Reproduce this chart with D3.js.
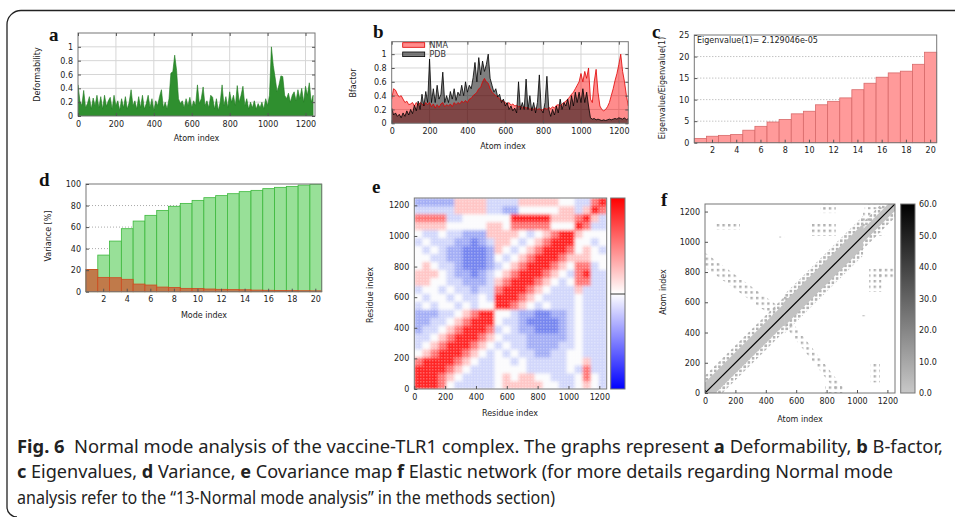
<!DOCTYPE html>
<html>
<head>
<meta charset="utf-8">
<style>
body{margin:0;background:#fff;}
</style>
</head>
<body>
<script src="https://cdn.jsdelivr.net/npm/d3@7"></script>
<script>
const W = 955, H = 517;

// ---- data ----
const atomTicks = [0,200,400,600,800,1000,1200];
const deformTicks = [0,0.2,0.4,0.6,0.8,1];
const deformStep = 10;
const deformability = [0.45,0.22,0.15,0.37,0.12,0.18,0.28,0.1,0.26,0.15,0.3,0.12,0.28,0.1,0.3,0.14,0.22,0.27,0.1,0.3,
  0.15,0.22,0.08,0.25,0.12,0.28,0.1,0.2,0.38,0.15,0.22,0.1,0.28,0.12,0.3,0.1,0.18,0.3,0.12,0.25,
  0.08,0.22,0.15,0.28,0.38,0.12,0.2,0.1,0.25,0.62,0.64,0.88,0.66,0.25,0.18,0.22,0.12,0.25,0.15,0.27,
  0.12,0.22,0.15,0.45,0.18,0.25,0.42,0.15,0.22,0.12,0.3,0.27,0.1,0.25,0.08,0.2,0.45,0.15,0.28,0.12,
  0.35,0.2,0.3,0.15,0.44,0.2,0.3,0.43,0.15,0.25,0.1,0.2,0.12,0.22,0.1,0.18,0.12,0.2,0.1,0.25,
  0.15,0.3,1.0,0.73,0.55,0.35,0.45,0.58,0.57,0.3,0.25,0.33,0.2,0.3,0.35,0.22,0.38,0.25,0.4,0.2,
  0.43,0.3,0.48,0.2,0.3];

const bfTicks = [0,0.2,0.4,0.6,0.8,1];
const bfStep = 10;
const bfactorNMA = [0.35,0.5,0.48,0.42,0.38,0.4,0.35,0.3,0.32,0.27,0.28,0.3,0.25,0.3,0.26,0.3,0.28,0.25,0.3,0.27,
  0.3,0.24,0.28,0.22,0.27,0.23,0.28,0.3,0.24,0.27,0.25,0.28,0.24,0.3,0.27,0.3,0.28,0.32,0.3,0.33,
  0.3,0.35,0.36,0.4,0.42,0.45,0.5,0.52,0.6,0.65,0.6,0.58,0.5,0.45,0.42,0.4,0.38,0.35,0.33,0.32,
  0.3,0.28,0.3,0.26,0.28,0.25,0.26,0.24,0.25,0.22,0.24,0.22,0.23,0.2,0.22,0.2,0.22,0.2,0.21,0.19,
  0.2,0.22,0.2,0.23,0.21,0.24,0.22,0.26,0.27,0.25,0.28,0.3,0.32,0.35,0.38,0.42,0.45,0.5,0.55,0.6,
  0.72,0.6,0.75,0.65,0.8,0.35,0.3,0.6,0.78,0.45,0.25,0.2,0.18,0.2,0.24,0.3,0.4,0.5,0.62,0.72,
  0.85,1.0,0.75,0.6,0.4,0.25];
const bfactorPDB = [0.22,0.12,0.15,0.1,0.13,0.08,0.15,0.1,0.18,0.12,0.2,0.14,0.26,0.18,0.32,0.2,0.42,0.25,0.46,0.3,
  0.93,0.3,0.5,0.3,0.55,0.35,0.42,0.74,0.3,0.4,0.3,0.46,0.35,0.5,0.33,0.45,0.4,0.55,0.4,0.6,
  0.45,0.55,0.5,0.66,0.88,0.6,0.95,0.7,0.9,0.75,0.85,1.0,0.65,0.55,0.45,0.5,0.38,0.42,0.3,0.35,
  0.25,0.3,0.2,0.25,0.18,0.22,0.15,0.6,0.2,0.3,0.2,0.64,0.2,0.4,0.18,0.3,0.15,0.3,0.7,0.2,
  0.15,0.3,0.68,0.2,0.1,0.2,0.12,0.25,0.15,0.35,0.2,0.3,0.25,0.35,0.2,0.4,0.25,0.45,0.3,0.45,
  0.3,0.5,0.3,0.45,0.25,0.08,0.06,0.07,0.05,0.06,0.05,0.04,0.05,0.04,0.05,0.06,0.05,0.06,0.07,0.06,
  0.08,0.07,0.06,0.08,0.05,0.07];

const modeIndex = [1,2,3,4,5,6,7,8,9,10,11,12,13,14,15,16,17,18,19,20];
const modeTicks = [2,4,6,8,10,12,14,16,18,20];
const eigenvalue1 = "2.129046e-05";
const eigenRatio = [1.0,1.5,1.7,1.9,2.9,3.8,4.8,5.4,6.7,7.3,8.8,9.6,10.4,12.3,13.8,15.2,16.2,16.6,18.2,21.0];
const eigTicks = [0,5,10,15,20,25];

const varianceCum = [20.7,34,47,58.5,65.6,70.9,75.5,79.3,82,84.8,87.3,89.2,91,92.9,94.1,95.7,96.9,97.8,99,99.7];
const varianceInd = [20.7,13.3,13,11.5,7.1,6.2,4.3,4,3.1,3,2.5,2.2,2.0,1.8,1.5,1.3,1.2,1.0,0.9,0.8];
const varTicks = [0,20,40,60,80,100];

// covariance map, 52-residue cells, rows bottom->top; B strong anti ... R strong positive
const covCell = 52;
const covLevel = {B:-3, b:-2, c:-1, ".":0, p:1, r:2, R:3};
const covRows = [
  "RRRr.ccccc.ppppp..cc.p.c",
  "RRRrp.cccc.p.pp..ccc.r.c",
  "RRRRrp.ccc....ccccc.crcc",
  "rRRRRrp.cc..c.ccccc..pcc",
  ".prRRRrp.c.c.ccbbcc..ccc",
  "c.prRRRrp.c.ccbbbbcc.ccc",
  "cc.prRRRrp.cccbbbbbc.ccc",
  "bcc.prRRRrc.cbbBBBbc.ccc",
  "bbcc.prRRR.ccbBBBBbc.ccc",
  "bbbcc.prRR..cbbBBbbc.ccc",
  "c.c..c.c..RRrp.c.ccc.ccc",
  ".c..c.cc.cRRRrp.cccc.ccc",
  "c..c.ccbccrRRRrp.cccpccc",
  "pp..ccbbbcprRRRrp.c.rrcc",
  "ppp.cbbBbc.prRRRrp.crRcc",
  ".p.ccbBBBbc.prRRRrp.rrc.",
  "..ccbbBBBb.c.prRRRrppp..",
  ".c.cbbBBBbp.c.prRRRr.p.c",
  "c.cccbbBbcpp.c.prRRR..c.",
  ".cc.ccbbbpppp.c.prRRp...",
  "pppp.....pp.rrrrr...Rrcc",
  "rrrrcc......RRRRRppprRpc",
  "cccccppppccbb.....ppcpRr",
  "bbbbbppppccccppppp..ccrR"
];

// elastic network: bands [x1,y1,x2,y2,half width,kind] and patches [x0,x1,y0,y1]
const contactBands = [
  [0,0,520,520,115,"halo"],
  [520,520,1040,1040,130,"halo"],
  [1040,1040,1250,1250,90,"halo"],
  [0,880,490,520,48,"sparse"],
  [530,480,905,0,42,"sparse"],
  [0,0,520,520,70,"dense"],
  [520,520,1040,1040,80,"dense"],
  [1040,1040,1250,1250,45,"dense"]
];
const contactPatches = [
  [60,230,1080,1130],[690,860,1040,1130],[760,860,1190,1250],[490,520,1015,1035],
  [1040,1090,1040,1200],[1040,1180,1040,1065],[1080,1160,670,820],[1140,1250,760,830],
  [1030,1060,490,515],[1090,1150,70,200],[790,900,0,60],[1050,1250,1215,1250],[510,620,520,640]
];
const elasticTicks = [0,10,20,30,40,50,60];

// ---- drawing ----
const svg = d3.select("body").append("svg").attr("width", W).attr("height", H).style("display","block");
const defs = svg.append("defs");
const FONT = "DejaVu Sans";

function clip(id, x0, y0, x1, y1) {
  defs.append("clipPath").attr("id", id).append("rect")
    .attr("x", x0).attr("y", y0).attr("width", x1 - x0).attr("height", y1 - y0);
  return `url(#${id})`;
}

function styleAxis(g) {
  g.attr("font-family", FONT).attr("font-size", 8);
  g.select(".domain").remove();
  g.selectAll(".tick line").attr("stroke", "#555");
  g.selectAll(".tick text").attr("fill", "#222");
}

function axes(x, y, xt, yt, xf, yf, mirror) {
  const [x0, x1] = x.range(), [yb, yt0] = y.range();
  svg.append("g").attr("transform", `translate(0,${yb})`)
    .call(d3.axisBottom(x).tickValues(xt).tickFormat(xf).tickSize(-3).tickPadding(5)).call(styleAxis);
  svg.append("g").attr("transform", `translate(${x0},0)`)
    .call(d3.axisLeft(y).tickValues(yt).tickFormat(yf).tickSize(-3).tickPadding(5)).call(styleAxis);
  if (mirror) {
    svg.append("g").attr("transform", `translate(0,${yt0})`)
      .call(d3.axisTop(x).tickValues(xt).tickFormat("").tickSize(-3)).call(styleAxis);
    svg.append("g").attr("transform", `translate(${x1},0)`)
      .call(d3.axisRight(y).tickValues(yt).tickFormat("").tickSize(-3)).call(styleAxis);
  }
}

function border(x, y) {
  const [x0, x1] = x.range(), [yb, yt] = y.range();
  svg.append("rect").attr("x", x0).attr("y", yt).attr("width", x1 - x0).attr("height", yb - yt)
    .attr("fill", "none").attr("stroke", "#777").attr("stroke-width", 1);
}

function label(txt, x, y, rot) {
  svg.append("text").attr("x", x).attr("y", y).attr("text-anchor", "middle")
    .attr("font-family", FONT).attr("font-size", 8).attr("fill", "#222")
    .attr("transform", rot ? `rotate(-90,${x},${y})` : null).attr("dy", "0.35em").text(txt);
}

function letter(txt, x, y) {
  svg.append("text").attr("x", x).attr("y", y).attr("font-family", "Liberation Serif")
    .attr("font-weight", "bold").attr("font-size", 19).attr("fill", "#111").text(txt);
}

const fmt1 = d => String(+d.toFixed(1));

// frame of the figure
svg.append("path").attr("d", "M955,10.5 H21 A14,14 0 0 0 7,24.5 V507 A10,10 0 0 0 17,517")
  .attr("fill", "none").attr("stroke", "#222").attr("stroke-width", 1.3);

// ---- a: deformability ----
{
  const x = d3.scaleLinear([0, 1250], [78, 315]);
  const y = d3.scaleLinear([0, 1.2], [116, 33]);
  const g = svg.append("g");
  g.selectAll("line.gx").data(atomTicks.slice(1)).join("line")
    .attr("x1", d => x(d)).attr("x2", d => x(d)).attr("y1", y(0)).attr("y2", y(1.2)).attr("stroke", "#d6d6d6");
  g.selectAll("line.gy").data(deformTicks.slice(1)).join("line")
    .attr("x1", x(0)).attr("x2", x(1250)).attr("y1", d => y(d)).attr("y2", d => y(d)).attr("stroke", "#d6d6d6");
  const area = d3.area().x((d, i) => x(i * deformStep)).y0(y(0)).y1(d => y(d));
  g.append("path").datum(deformability).attr("d", area).attr("fill", "#2f8f2f")
    .attr("stroke", "#1e7a1e").attr("stroke-width", 0.6).attr("clip-path", clip("clipA", 78, 33, 315, 116));
  border(x, y);
  axes(x, y, atomTicks, deformTicks, d3.format("d"), fmt1, true);
  label("Deformability", 37.5, 74.5, true);
  label("Atom index", 196.5, 138, false);
  letter("a", 49, 41);
}

// ---- b: B-factor ----
{
  const x = d3.scaleLinear([0, 1250], [391.7, 628.3]);
  const y = d3.scaleLinear([0, 1.18], [123.3, 41.7]);
  const g = svg.append("g");
  g.selectAll("line.gx").data(atomTicks.slice(1)).join("line")
    .attr("x1", d => x(d)).attr("x2", d => x(d)).attr("y1", y(0)).attr("y2", y(1.18)).attr("stroke", "#d6d6d6");
  g.selectAll("line.gy").data(bfTicks.slice(1)).join("line")
    .attr("x1", x(0)).attr("x2", x(1250)).attr("y1", d => y(d)).attr("y2", d => y(d)).attr("stroke", "#d6d6d6");
  const cp = clip("clipB", 391.7, 41.7, 628.3, 123.3);
  const area = d3.area().x((d, i) => x(i * bfStep)).y0(y(0)).y1(d => y(d));
  const line = d3.line().x((d, i) => x(i * bfStep)).y(d => y(d));
  g.append("path").datum(bfactorNMA).attr("d", area).attr("fill", "rgb(255,0,0)").attr("fill-opacity", 0.45).attr("clip-path", cp);
  g.append("path").datum(bfactorPDB).attr("d", area).attr("fill", "#000").attr("fill-opacity", 0.5).attr("clip-path", cp);
  g.append("path").datum(bfactorNMA).attr("d", line).attr("fill", "none").attr("stroke", "#e00000").attr("stroke-width", 0.8).attr("clip-path", cp);
  g.append("path").datum(bfactorPDB).attr("d", line).attr("fill", "none").attr("stroke", "#000").attr("stroke-width", 0.8).attr("clip-path", cp);
  border(x, y);
  axes(x, y, atomTicks, bfTicks, d3.format("d"), fmt1, true);
  // legend
  const leg = [["NMA", "rgba(255,0,0,0.45)", "#e00000", 42.7], ["PDB", "rgba(0,0,0,0.5)", "#000", 52]];
  leg.forEach(([t, f, s, yy]) => {
    svg.append("rect").attr("x", 402.7).attr("y", yy).attr("width", 22).attr("height", 4.6).attr("fill", f).attr("stroke", s).attr("stroke-width", 0.8);
    svg.append("text").attr("x", 429.5).attr("y", yy + 2.3).attr("dy", "0.35em").attr("font-family", FONT)
      .attr("font-size", 8).attr("fill", "#333").text(t);
  });
  label("Bfactor", 353, 83, true);
  label("Atom index", 503, 146, false);
  letter("b", 373, 38);
}

// ---- c: eigenvalues ----
{
  const x = d3.scaleBand(modeIndex, [694.3, 936.7]).padding(0);
  const y = d3.scaleLinear([0, 25], [142.7, 35]);
  svg.selectAll("line.gc").data(eigTicks.slice(1, -1)).join("line")
    .attr("x1", 694.3).attr("x2", 936.7).attr("y1", d => y(d)).attr("y2", d => y(d))
    .attr("stroke", "#aaa").attr("stroke-dasharray", "1,2");
  svg.append("g").selectAll("rect").data(eigenRatio).join("rect")
    .attr("x", (d, i) => x(modeIndex[i])).attr("width", x.bandwidth())
    .attr("y", d => y(d)).attr("height", d => y(0) - y(d))
    .attr("fill", "#ff9a9a").attr("stroke", "#d86a6a").attr("stroke-width", 0.8);
  border(x, y);
  axes(x, y, modeTicks, eigTicks, d3.format("d"), d3.format("d"), false);
  svg.append("text").attr("x", 697).attr("y", 42.5).attr("font-family", FONT).attr("font-size", 8)
    .attr("fill", "#222").text(`Eigenvalue(1)= ${eigenvalue1}`);
  label("Eigenvalue/Eigenvalue(1)", 662.7, 88, true);
  letter("c", 652, 38);
}

// ---- d: variance ----
{
  const x = d3.scaleBand(modeIndex, [86, 321.7]).padding(0);
  const y = d3.scaleLinear([0, 100], [291.7, 184]);
  svg.selectAll("line.gd").data(varTicks.slice(1, -1)).join("line")
    .attr("x1", 86).attr("x2", 321.7).attr("y1", d => y(d)).attr("y2", d => y(d))
    .attr("stroke", "#aaa").attr("stroke-dasharray", "1,2");
  svg.append("g").selectAll("rect").data(varianceCum).join("rect")
    .attr("x", (d, i) => x(modeIndex[i])).attr("width", x.bandwidth())
    .attr("y", d => y(d)).attr("height", d => y(0) - y(d))
    .attr("fill", "#98e098").attr("stroke", "#3cb83c").attr("stroke-width", 0.8);
  svg.append("g").selectAll("rect").data(varianceInd).join("rect")
    .attr("x", (d, i) => x(modeIndex[i])).attr("width", x.bandwidth())
    .attr("y", d => y(d)).attr("height", d => y(0) - y(d))
    .attr("fill", "#c07a4a").attr("stroke", "#d04a20").attr("stroke-width", 0.8);
  border(x, y);
  axes(x, y, modeTicks, varTicks, d3.format("d"), d3.format("d"), false);
  label("Variance [%]", 48, 236, true);
  label("Mode index", 204, 315, false);
  letter("d", 39, 186);
}

// ---- e: covariance map ----
{
  const n = covRows.length, max = n * covCell;
  const x = d3.scaleLinear([0, max], [414.3, 606.7]);
  const y = d3.scaleLinear([0, max], [389, 198]);
  const color = d3.scaleLinear([-3, -2, -1, 0, 1, 2, 3],
    ["#7584ef", "#a3adf5", "#d2d7fb", "#fbfbfd", "#ffc6c6", "#ff7676", "#ff2323"]);
  const cells = [];
  covRows.forEach((row, i) => row.split("").forEach((ch, j) => cells.push({i, j, v: covLevel[ch]})));
  const blur = defs.append("filter").attr("id", "covBlur").attr("x", 0).attr("y", 0).attr("width", 1).attr("height", 1);
  blur.append("feGaussianBlur").attr("stdDeviation", 1.6).attr("edgeMode", "duplicate");
  const g = svg.append("g").attr("clip-path", clip("clipE", 414.3, 198, 606.7, 389));
  g.append("g").attr("filter", "url(#covBlur)").selectAll("rect").data(cells).join("rect")
    .attr("x", d => x(d.j * covCell)).attr("y", d => y((d.i + 1) * covCell))
    .attr("width", x(covCell) - x(0) + 0.3).attr("height", y(0) - y(covCell) + 0.3)
    .attr("fill", d => color(d.v));
  // fine texture of the map
  const pat = defs.append("pattern").attr("id", "covTex").attr("patternUnits", "userSpaceOnUse")
    .attr("width", 3).attr("height", 3);
  pat.append("rect").attr("width", 1.5).attr("height", 1.5).attr("fill", "#fff").attr("fill-opacity", 0.28);
  g.append("rect").attr("x", 414.3).attr("y", 198).attr("width", 192.4).attr("height", 191).attr("fill", "url(#covTex)");
  svg.append("rect").attr("x", 414.3).attr("y", 198).attr("width", 192.4).attr("height", 191)
    .attr("fill", "none").attr("stroke", "#777");
  axes(x, y, atomTicks, atomTicks, d3.format("d"), d3.format("d"), false);
  // colour bar
  const grad = defs.append("linearGradient").attr("id", "covBar").attr("x1", 0).attr("y1", 0).attr("x2", 0).attr("y2", 1);
  [[0, "#ff0000"], [0.5, "#ffffff"], [1, "#0000ff"]].forEach(([o, c]) =>
    grad.append("stop").attr("offset", o).attr("stop-color", c));
  svg.append("rect").attr("x", 610.7).attr("y", 198).attr("width", 14.3).attr("height", 191)
    .attr("fill", "url(#covBar)").attr("stroke", "#777");
  svg.append("line").attr("x1", 610.7).attr("x2", 625).attr("y1", 294).attr("y2", 294).attr("stroke", "#333");
  label("Residue index", 370, 295, true);
  label("Residue index", 510, 413, false);
  letter("e", 372, 193);
}

// ---- f: elastic network ----
{
  const x = d3.scaleLinear([0, 1250], [705, 895]);
  const y = d3.scaleLinear([0, 1250], [393, 204]);
  const pat = defs.append("pattern").attr("id", "dotsF").attr("patternUnits", "userSpaceOnUse")
    .attr("width", 4.2).attr("height", 4.2);
  pat.append("rect").attr("width", 2.6).attr("height", 2.6).attr("fill", "#b4b4b4");
  const pat2 = defs.append("pattern").attr("id", "dotsSparse").attr("patternUnits", "userSpaceOnUse")
    .attr("width", 5.6).attr("height", 5.6);
  pat2.append("rect").attr("width", 2.4).attr("height", 2.4).attr("fill", "#b0b0b0");
  const fills = {halo: "url(#dotsF)", sparse: "url(#dotsSparse)", dense: "#c2c2c2"};
  const g = svg.append("g").attr("clip-path", clip("clipF", 705, 204, 895, 393));
  contactPatches.forEach(([a, b, c, d]) => {
    g.append("rect").attr("x", x(a)).attr("y", y(d)).attr("width", x(b) - x(a)).attr("height", y(c) - y(d))
      .attr("fill", "url(#dotsSparse)");
  });
  contactBands.forEach(([ax, ay, bx, by, hw, kind]) => {
    const pts = [[ax, ay - hw], [bx, by - hw], [bx, by + hw], [ax, ay + hw]].map(([u, v]) => [x(u), y(v)]);
    g.append("polygon").attr("points", pts.map(p => p.join(",")).join(" ")).attr("fill", fills[kind]);
  });
  g.append("line").attr("x1", x(0)).attr("y1", y(0)).attr("x2", x(1250)).attr("y2", y(1250))
    .attr("stroke", "#000").attr("stroke-width", 1.2);
  svg.append("rect").attr("x", 705).attr("y", 204).attr("width", 190).attr("height", 189)
    .attr("fill", "none").attr("stroke", "#777");
  axes(x, y, atomTicks, atomTicks, d3.format("d"), d3.format("d"), false);
  // colour bar
  const grad = defs.append("linearGradient").attr("id", "elBar").attr("x1", 0).attr("y1", 0).attr("x2", 0).attr("y2", 1);
  [[0, "#000000"], [1, "#c8c8c8"]].forEach(([o, c]) => grad.append("stop").attr("offset", o).attr("stop-color", c));
  const yc = d3.scaleLinear([0, 60], [393, 204]);
  svg.append("rect").attr("x", 900.7).attr("y", 204).attr("width", 14.3).attr("height", 189)
    .attr("fill", "url(#elBar)").attr("stroke", "#777");
  svg.append("g").attr("transform", "translate(915,0)")
    .call(d3.axisRight(yc).tickValues(elasticTicks).tickFormat(d3.format(".1f")).tickSize(0).tickPadding(4))
    .call(styleAxis);
  label("Atom index", 663, 292, true);
  label("Atom index", 800, 419, false);
  letter("f", 661, 206);
}

// ---- caption ----
{
  const lines = [
    [["Fig. 6", true], ["  Normal mode analysis of the vaccine-TLR1 complex. The graphs represent ", false], ["a", true],
     [" Deformability, ", false], ["b", true], [" B-factor,", false]],
    [["c", true], [" Eigenvalues, ", false], ["d", true], [" Variance, ", false], ["e", true],
     [" Covariance map ", false], ["f", true], [" Elastic network (for more details regarding Normal mode", false]],
    [["analysis refer to the \u201c13-Normal mode analysis\u201d in the methods section)", false]]
  ];
  const ends = [943, 893, 555];
  lines.forEach((parts, k) => {
    const t = svg.append("text").attr("x", 17).attr("y", 453 + k * 25.3)
      .attr("font-family", "Noto Sans").attr("font-size", 17.5).attr("fill", "#222")
      .attr("textLength", ends[k] - 17).attr("lengthAdjust", "spacingAndGlyphs")
      .attr("xml:space", "preserve");
    parts.forEach(([s, b]) => t.append("tspan").attr("font-weight", b ? "bold" : null).text(s));
  });
}
</script>
</body>
</html>
